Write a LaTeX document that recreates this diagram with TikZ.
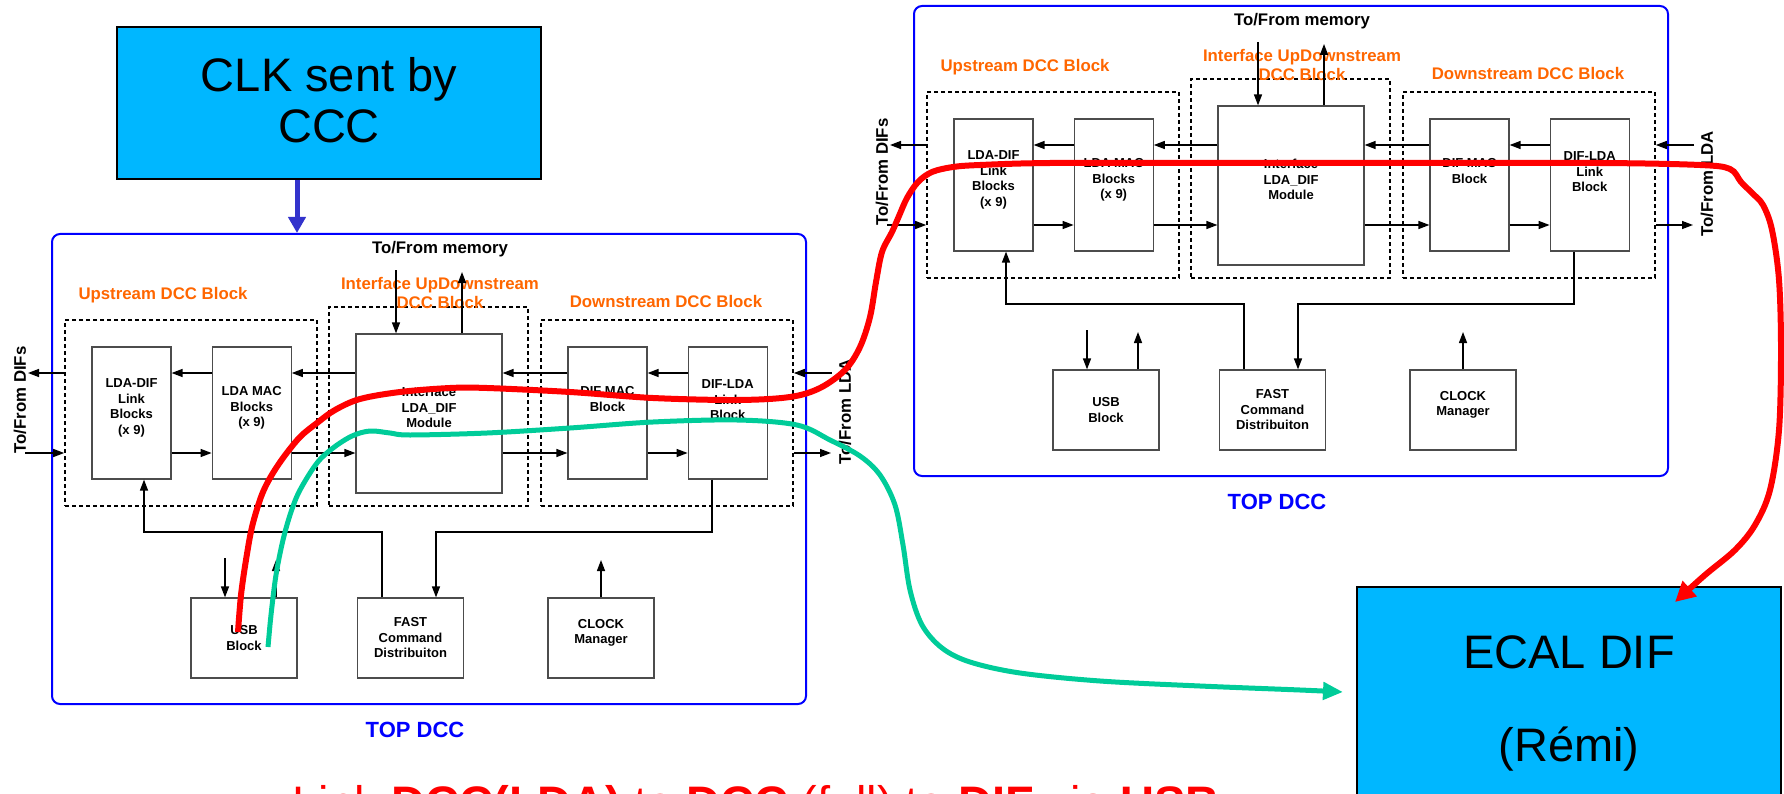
\documentclass[tikz,border=0pt]{standalone}
\usepackage{fontspec}
\setmainfont{Liberation Sans}
\usetikzlibrary{positioning,arrows.meta,calc}

\definecolor{ccccyan}{RGB}{0,183,255}
\definecolor{grporange}{RGB}{255,102,0}
\definecolor{clkblue}{RGB}{51,51,204}
\definecolor{usbgreen}{RGB}{0,204,153}

\begin{document}
\begin{tikzpicture}[
    x=1pt, y=-1pt,
    font=\bfseries\fontsize{13}{15.5}\selectfont,
    blkbox/.style={draw=black!70, line width=1.2pt, minimum width=79pt,
                   minimum height=132pt, inner sep=1pt, align=center},
    ifbox/.style={blkbox, minimum width=146pt, minimum height=159pt},
    smallbox/.style={blkbox, minimum width=106pt, minimum height=80pt},
    grpbox/.style={draw, dash pattern=on 4pt off 3pt, line width=1.6pt,
                   minimum width=252pt, minimum height=186pt},
    topframe/.style={draw=blue, line width=2pt, rounded corners=8pt,
                     minimum width=754pt, minimum height=470pt},
    grptitle/.style={text=grporange, align=center,
                     font=\bfseries\fontsize{16.8}{19.5}\selectfont},
    sidelbl/.style={rotate=90, font=\bfseries\fontsize{16.8}{20}\selectfont},
    toplbl/.style={text=blue, font=\bfseries\fontsize{22}{24}\selectfont},
    sig/.style={-{Triangle[length=11pt,width=8pt]}, line width=1.4pt},
    bigbox/.style={draw=black, line width=2pt, fill=ccccyan, align=center},
    clkarr/.style={-{Triangle[length=16pt,width=17pt]}, line width=5pt, clkblue},
    redtrace/.style={-{Triangle[length=20pt,width=20pt]}, line width=6pt, red},
    greentrace/.style={-{Triangle[length=20pt,width=17pt]}, line width=5pt, usbgreen},
  ]
  \useasboundingbox (0,0) rectangle (1784,794);

  % two copies of the TOP DCC
  \foreach \dx/\dy/\nm in {0/0/l, 862/-228/r}{
    \begin{scope}[shift={(\dx,\dy)}]
      \node[topframe] (\nm-top) at (429,469) {};
      \node[toplbl] (\nm-toplbl) at (415,730) {TOP DCC};
      \node[font=\bfseries\fontsize{16.8}{20}\selectfont] (\nm-mem) at (440,249) {To/From memory};

      % dashed groups and titles
      \node[grpbox] (\nm-upg) at (191,413) {};
      \node[grpbox, minimum width=199pt, minimum height=199pt] (\nm-ifg) at (428.5,406.5) {};
      \node[grpbox] (\nm-dng) at (667,413) {};
      \node[grptitle] (\nm-uptitle) at (163,295) {Upstream DCC Block};
      \node[grptitle] (\nm-iftitle) at (440,293) {Interface UpDownstream\\DCC Block};
      \node[grptitle] (\nm-dntitle) at (666,301) {Downstream DCC Block};

      % blocks
      \node[blkbox, text depth=13pt] (\nm-ldadif) at (131.5,413) {LDA-DIF\\Link\\Blocks\\(x 9)};
      \node[blkbox, text depth=13pt, right=40pt of \nm-ldadif] (\nm-ldamac) {LDA MAC\\Blocks\\(x 9)};
      \node[ifbox, text depth=12pt] (\nm-iface) at (429,413.5) {Interface\\LDA\_DIF\\Module};
      \node[blkbox, text depth=28pt] (\nm-difmac) at (607.5,413) {DIF MAC\\Block};
      \node[blkbox, text depth=26pt, right=40pt of \nm-difmac] (\nm-diflda) {DIF-LDA\\Link\\Block};
      \node[smallbox] (\nm-usb) at (244,638) {USB\\Block};
      \node[smallbox] (\nm-fast) at (410.5,638) {FAST\\Command\\Distribuiton};
      \node[smallbox, text depth=13pt] (\nm-clock) at (601,638) {CLOCK\\Manager};

      \node[sidelbl] (\nm-difslbl) at (20,400) {To/From DIFs};
      \node[sidelbl] (\nm-ldalbl) at (845,412) {To/From LDA};

      % data path arrows
      \coordinate (\nm-hi) at (0,373);
      \coordinate (\nm-lo) at (0,453);
      \coordinate (\nm-difsout) at (28,373);
      \coordinate (\nm-difsin) at (25,453);
      \coordinate (\nm-ldain) at (832,373);
      \coordinate (\nm-ldaout) at (831,453);
      \draw[sig] (\nm-iface.west |- \nm-hi) -- (\nm-ldamac.east |- \nm-hi);
      \draw[sig] (\nm-ldamac.west |- \nm-hi) -- (\nm-ldadif.east |- \nm-hi);
      \draw[sig] (\nm-upg.west |- \nm-hi) -- (\nm-difsout);
      \draw[sig] (\nm-difsin) -- (\nm-upg.west |- \nm-difsin);
      \draw[sig] (\nm-ldadif.east |- \nm-lo) -- (\nm-ldamac.west |- \nm-lo);
      \draw[sig] (\nm-ldamac.east |- \nm-lo) -- (\nm-iface.west |- \nm-lo);
      \draw[sig] (\nm-difmac.west |- \nm-hi) -- (\nm-iface.east |- \nm-hi);
      \draw[sig] (\nm-diflda.west |- \nm-hi) -- (\nm-difmac.east |- \nm-hi);
      \draw[sig] (\nm-ldain) -- (\nm-dng.east |- \nm-ldain);
      \draw[sig] (\nm-dng.east |- \nm-ldaout) -- (\nm-ldaout);
      \draw[sig] (\nm-iface.east |- \nm-lo) -- (\nm-difmac.west |- \nm-lo);
      \draw[sig] (\nm-difmac.east |- \nm-lo) -- (\nm-diflda.west |- \nm-lo);

      % memory
      \coordinate (\nm-memin) at (396,270);
      \coordinate (\nm-memout) at (462,272);
      \draw[sig] (\nm-memin) -- (\nm-memin |- \nm-iface.north);
      \draw[sig] (\nm-memout |- \nm-iface.north) -- (\nm-memout);

      % command bus
      \coordinate (\nm-ba) at (144,532);
      \coordinate (\nm-bb) at (382,532);
      \coordinate (\nm-bc) at (436,532);
      \coordinate (\nm-bd) at (712,532);
      \draw[sig] (\nm-bb |- \nm-fast.north) -- (\nm-bb) -- (\nm-ba) -- (\nm-ba |- \nm-ldadif.south);
      \draw[sig] (\nm-bd |- \nm-diflda.south) -- (\nm-bd) -- (\nm-bc) -- (\nm-bc |- \nm-fast.north);

      % usb and clock
      \coordinate (\nm-usbin) at (225,558);
      \coordinate (\nm-usbout) at (276,560);
      \coordinate (\nm-clkout) at (601,560);
      \draw[sig] (\nm-usbin) -- (\nm-usbin |- \nm-usb.north);
      \draw[sig] (\nm-usbout |- \nm-usb.north) -- (\nm-usbout);
      \draw[sig] (\nm-clock.north) -- (\nm-clkout);
    \end{scope}
  }

  % clock source and DIF
  \node[bigbox, minimum width=424pt, minimum height=152pt, text depth=7pt,
        font=\fontsize{47}{51}\selectfont] (clk) at (329,103) {CLK sent by\\CCC};
  \node[bigbox, minimum width=424pt, minimum height=232pt,
        font=\fontsize{47}{93}\selectfont] (ecal) at (1569,703) {ECAL DIF\\(Rémi)};
  \draw[clkarr] ([xshift=-32pt]clk.south) -- ([xshift=-132pt]l-top.north);

  \node[anchor=base west, inner sep=0pt, text=red, font=\fontsize{47}{57}\selectfont]
    (caption) at (292,819) {Link \textbf{DCC(LDA)} to \textbf{DCC} (full) to \textbf{DIF} via \textbf{USB}};

  % traces
  \coordinate (redstart) at (238,632);
  \coordinate (redend) at (1675,602);
  \coordinate (greenstart) at (268,647);
  \coordinate (greenend) at (1343,692);
  \draw[greentrace] plot[smooth, tension=0.55] coordinates {(greenstart) (271,615) (276,575)
    (283,540) (291,512) (300,490) (317,463) (333,448) (352,436) (370,431) (390,433) (410,435)
    (487,433) (570,428) (653,422) (737,420) (797,425) (830,440) (860,456) (880,475) (895,505)
    (903,545) (910,590) (922,625) (942,648) (970,662) (1020,673) (1100,681) (1200,686)
    (1300,690) (greenend)};
  \draw[redtrace] plot[smooth, tension=0.55] coordinates {(redstart) (241,595) (246,560)
    (252,527) (261,497) (270,478) (283,458) (300,437) (317,423) (335,410) (360,399) (400,392)
    (450,388) (487,388) (570,392) (653,398) (737,400) (790,397) (820,388) (845,370) (860,347)
    (870,317) (876,282) (882,252) (892,232) (899,216) (907,198) (918,182) (932,172) (953,167)
    (980,165) (1050,163) (1200,163) (1400,163) (1600,163) (1700,165) (1730,169) (1741,182)
    (1752,193) (1763,205) (1772,230) (1779,280) (1781,350) (1779,430) (1770,490) (1755,525)
    (1735,550) (1705,575) (redend)};
\end{tikzpicture}
\end{document}
